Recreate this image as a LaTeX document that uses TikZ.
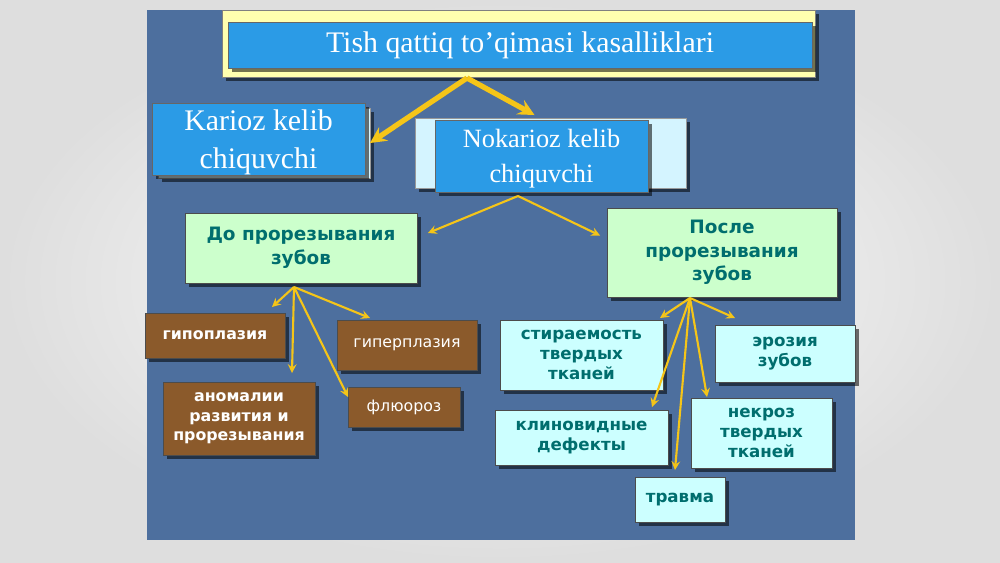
\documentclass[tikz,border=0pt]{standalone}
\usepackage{fontspec}
\setmainfont{Liberation Serif}
\setsansfont{DejaVu Sans}
\usetikzlibrary{shapes,arrows,shadows,calc}

\definecolor{slideblue}{RGB}{77,111,158}
\definecolor{titleyellow}{RGB}{255,255,175}
\definecolor{titleblue}{RGB}{43,155,230}
\definecolor{paleback}{RGB}{212,244,255}
\definecolor{palegreen}{RGB}{204,255,204}
\definecolor{palecyan}{RGB}{204,255,255}
\definecolor{toothbrown}{RGB}{139,90,43}
\definecolor{tealtext}{RGB}{0,110,110}
\definecolor{arrowyellow}{RGB}{245,197,24}

\tikzstyle{boxshadow} = [drop shadow={shadow xshift=0.08cm, shadow yshift=-0.08cm, opacity=0.55, fill=black}]
\tikzstyle{titlebox} = [rectangle, fill=titleyellow, draw=black!50, inner sep=0pt, outer sep=0pt, boxshadow]
\tikzstyle{bluebox} = [rectangle, fill=titleblue, draw=black!60, text=white, align=center, inner sep=0pt, outer sep=0pt, boxshadow]
\tikzstyle{backbox} = [rectangle, fill=paleback, draw=black!40, inner sep=0pt, outer sep=0pt, boxshadow]
\tikzstyle{greenbox} = [rectangle, fill=palegreen, draw=black!70, text=tealtext, align=center, inner sep=0pt, outer sep=0pt, font=\sffamily\bfseries\fontsize{10.5}{13.5}\selectfont, boxshadow]
\tikzstyle{cyanbox} = [rectangle, fill=palecyan, draw=black!70, text=tealtext, align=center, inner sep=0pt, outer sep=0pt, font=\sffamily\bfseries\fontsize{9.5}{11.5}\selectfont, boxshadow]
\tikzstyle{brownbox} = [rectangle, fill=toothbrown, draw=black!70, text=white, align=center, inner sep=0pt, outer sep=0pt, font=\sffamily\bfseries\fontsize{9}{11}\selectfont, boxshadow]
\tikzstyle{arrow} = [->, >=stealth, draw=arrowyellow, line width=1.2pt]
\tikzstyle{bigarrow} = [->, >=stealth, draw=arrowyellow, line width=3pt]

\begin{document}
\begin{tikzpicture}[x=0.02cm, y=-0.02cm]

\shade[inner color=white, outer color=black!13] (0,0) rectangle (1000,562);
\fill[slideblue] (147,10) rectangle (855,540);

\node (titleback) [titlebox, minimum width=11.86cm, minimum height=1.34cm] at (518.5,43.5) {};
\node (title) [bluebox, minimum width=11.68cm, minimum height=0.92cm, font=\fontsize{17}{20}\selectfont] at (520,45) {Tish qattiq to’qimasi kasalliklari};

\node (kariozback) [backbox, minimum width=4.24cm, minimum height=1.4cm] at (264,143) {};
\node (karioz) [bluebox, minimum width=4.26cm, minimum height=1.44cm, text depth=0pt, font=\fontsize{17}{22}\selectfont] at (258.5,139) {Karioz kelib\\chiquvchi};
\node (nokariozback) [backbox, minimum width=5.42cm, minimum height=1.4cm] at (550.5,153) {};
\node (nokarioz) [bluebox, minimum width=4.26cm, minimum height=1.44cm, text depth=0pt, font=\fontsize{15}{20}\selectfont] at (541.5,156) {Nokarioz kelib\\chiquvchi};

\node (before) [greenbox, minimum width=4.64cm, minimum height=1.4cm] at (301,248) {До прорезывания\\зубов};
\node (after) [greenbox, minimum width=4.6cm, minimum height=1.78cm] at (722,252.5) {После\\прорезывания\\зубов};

\node (hypo) [brownbox, minimum width=2.8cm, minimum height=0.9cm] at (215,335.5) {гипоплазия};
\node (anomaly) [brownbox, minimum width=3.04cm, minimum height=1.46cm] at (239,418.5) {аномалии\\развития и\\прорезывания};
\node (hyper) [brownbox, font=\sffamily\fontsize{9}{11}\selectfont, minimum width=2.8cm, minimum height=1cm] at (407,345) {гиперплазия};
\node (fluor) [brownbox, font=\sffamily\fontsize{9}{11}\selectfont, minimum width=2.24cm, minimum height=0.8cm] at (404,407) {флюороз};

\node (abrasion) [cyanbox, minimum width=3.26cm, minimum height=1.4cm] at (581.5,355) {стираемость\\твердых\\тканей};
\node (erosion) [cyanbox, minimum width=2.8cm, minimum height=1.14cm] at (785,353.5) {эрозия\\зубов};
\node (wedge) [cyanbox, minimum width=3.46cm, minimum height=1.1cm] at (581.5,437.5) {клиновидные\\дефекты};
\node (necrosis) [cyanbox, minimum width=2.82cm, minimum height=1.4cm] at (761.5,433) {некроз\\твердых\\тканей};
\node (trauma) [cyanbox, minimum width=1.8cm, minimum height=0.9cm] at (680,499.5) {травма};

\coordinate (tfork) at ($(titleback.south)+(-51.5,1)$);
\coordinate (nfork) at ($(nokarioz.south)+(-23.5,4)$);
\coordinate (dfork) at ($(before.south)+(-7,4)$);
\coordinate (pfork) at ($(after.south)+(-32,1)$);

\draw [bigarrow] (tfork) -- (kariozback.east);
\draw [bigarrow] (tfork) -- ($(nokarioz.north)+(-7,-5)$);

\draw [arrow] (nfork) -- ($(before.east)+(11,-15)$);
\draw [arrow] (nfork) -- ($(after.west)+(-7,-17)$);

\draw [arrow] (dfork) -- ($(hypo.north east)+(-13,-6)$);
\draw [arrow] (dfork) -- ($(anomaly.north east)+(-23,-9)$);
\draw [arrow] (dfork) -- ($(hyper.north west)+(33,-2)$);
\draw [arrow] (dfork) -- ($(fluor.west)+(0,-10)$);

\draw [arrow] (pfork) -- ($(abrasion.north east)+(-3,-2)$);
\draw [arrow] (pfork) -- ($(erosion.north west)+(20,-7)$);
\draw [arrow] (pfork) -- ($(wedge.north east)+(-16,-3)$);
\draw [arrow] (pfork) -- ($(necrosis.north west)+(16,-1)$);
\draw [arrow] (pfork) -- ($(trauma.north)+(-5,-7)$);

\end{tikzpicture}
\end{document}
